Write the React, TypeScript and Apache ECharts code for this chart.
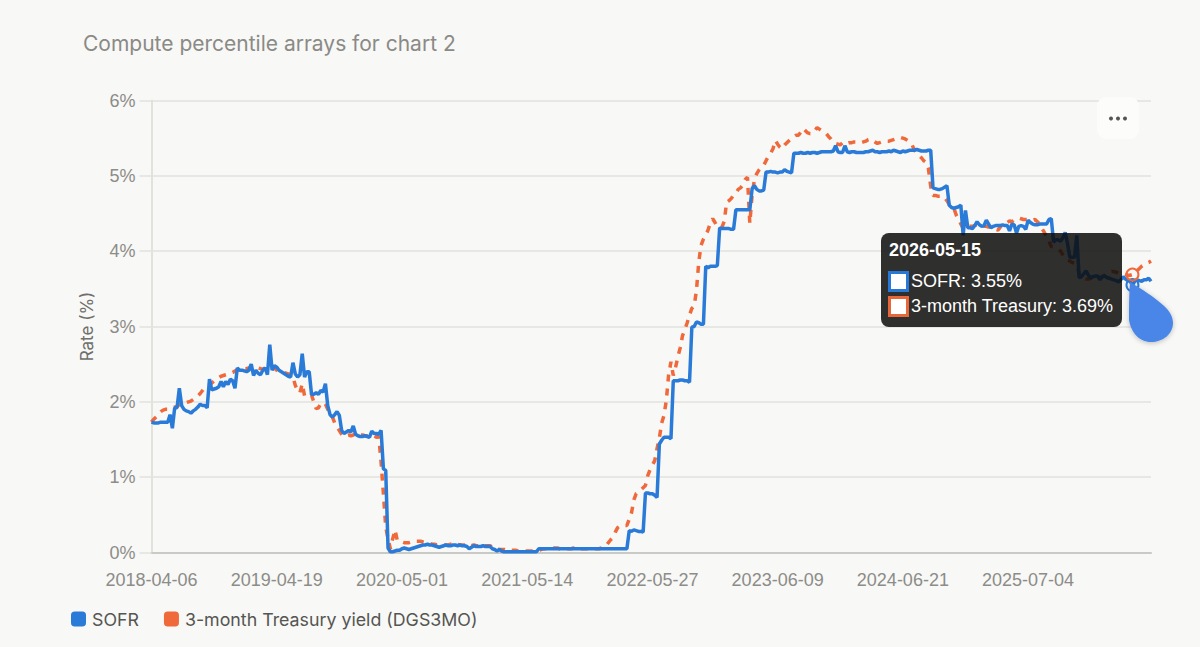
import React, { useEffect, useRef } from "react";
import * as echarts from "echarts";

const titleText = "Compute percentile arrays for chart 2";
const seriesNames = ["SOFR", "3-month Treasury yield (DGS3MO)"];
const tooltipNames = ["SOFR", "3-month Treasury"];
const yAxisName = "Rate (%)";
const firstDate = "2018-04-06";
const weekCount = 432;
const labelStep = 54;
const hoverIndex = 423;

const sofr = [
  1.73,1.72,1.72,1.72,1.73,1.73,1.73,1.73,1.83,1.65,
  1.92,1.92,2.18,1.95,1.90,1.88,1.87,1.85,1.88,1.90,
  1.93,1.97,1.95,1.95,1.92,2.30,2.16,2.17,2.18,2.20,
  2.27,2.20,2.27,2.23,2.30,2.28,2.18,2.45,2.42,2.42,
  2.41,2.40,2.42,2.50,2.35,2.42,2.38,2.36,2.42,2.45,
  2.36,2.76,2.42,2.48,2.46,2.42,2.40,2.38,2.36,2.34,
  2.33,2.52,2.37,2.33,2.36,2.64,2.33,2.40,2.40,2.10,
  2.10,2.12,2.10,2.15,2.13,2.24,1.95,1.83,1.80,1.83,
  1.87,1.82,1.62,1.58,1.60,1.62,1.60,1.68,1.57,1.55,
  1.54,1.54,1.55,1.54,1.53,1.61,1.58,1.58,1.57,1.62,
  1.11,1.09,0.06,0.01,0.01,0.02,0.03,0.03,0.05,0.06,
  0.05,0.04,0.05,0.06,0.07,0.08,0.09,0.10,0.10,0.11,
  0.10,0.10,0.09,0.08,0.07,0.08,0.09,0.10,0.09,0.09,
  0.10,0.10,0.09,0.10,0.09,0.09,0.08,0.05,0.07,0.09,
  0.08,0.08,0.08,0.09,0.08,0.08,0.08,0.05,0.04,0.02,
  0.04,0.02,0.01,0.01,0.01,0.01,0.01,0.01,0.01,0.01,
  0.01,0.01,0.01,0.01,0.01,0.01,0.01,0.05,0.05,0.05,
  0.05,0.05,0.05,0.05,0.05,0.05,0.05,0.05,0.05,0.05,
  0.05,0.05,0.05,0.05,0.05,0.05,0.05,0.05,0.05,0.05,
  0.05,0.05,0.05,0.05,0.05,0.05,0.05,0.05,0.05,0.05,
  0.05,0.05,0.05,0.05,0.05,0.05,0.29,0.28,0.30,0.29,
  0.28,0.28,0.27,0.79,0.79,0.78,0.78,0.76,0.73,1.44,
  1.49,1.53,1.53,1.53,1.51,2.28,2.28,2.28,2.29,2.29,
  2.28,2.28,2.26,2.99,3.00,3.06,3.05,3.03,3.03,3.80,
  3.78,3.80,3.80,3.80,3.81,4.31,4.30,4.30,4.30,4.30,
  4.29,4.29,4.55,4.55,4.55,4.55,4.55,4.55,4.55,4.83,
  4.87,4.82,4.80,4.80,4.81,5.05,5.05,5.06,5.05,5.05,
  5.04,5.05,5.05,5.08,5.06,5.05,5.04,5.30,5.30,5.30,
  5.31,5.30,5.30,5.31,5.30,5.31,5.31,5.30,5.31,5.32,
  5.32,5.32,5.32,5.32,5.33,5.40,5.32,5.31,5.31,5.40,
  5.32,5.31,5.32,5.32,5.31,5.31,5.31,5.31,5.32,5.32,
  5.33,5.34,5.32,5.32,5.31,5.32,5.32,5.32,5.33,5.32,
  5.34,5.33,5.32,5.31,5.33,5.32,5.33,5.34,5.34,5.34,
  5.35,5.34,5.33,5.33,5.33,5.34,5.34,4.84,4.83,4.82,
  4.82,4.83,4.85,4.87,4.61,4.58,4.57,4.58,4.59,4.61,
  4.21,4.54,4.31,4.31,4.30,4.34,4.39,4.35,4.33,4.34,
  4.41,4.36,4.31,4.33,4.34,4.34,4.34,4.35,4.34,4.34,
  4.27,4.36,4.35,4.24,4.33,4.34,4.33,4.29,4.41,4.38,
  4.36,4.35,4.35,4.36,4.36,4.36,4.36,4.42,4.43,4.12,
  4.15,4.15,4.13,4.18,4.25,4.10,3.92,3.92,3.92,4.21,
  3.65,3.66,3.70,3.74,3.68,3.65,3.66,3.67,3.67,3.62,
  3.66,3.67,3.65,3.64,3.63,3.62,3.61,3.59,3.62,3.66,
  3.63,3.61,3.60,3.55,3.60,3.62,3.61,3.60,3.62,3.62,3.64,3.60,
];

const treasury = [
  1.73,1.77,1.80,1.84,1.87,1.89,1.90,1.90,1.91,1.92,
  1.93,1.94,1.96,1.97,1.98,1.99,2.00,2.01,2.03,2.05,
  2.08,2.11,2.15,2.19,2.20,2.22,2.25,2.28,2.30,2.32,
  2.34,2.35,2.36,2.37,2.38,2.39,2.41,2.42,2.44,2.45,
  2.44,2.44,2.45,2.44,2.43,2.44,2.45,2.44,2.43,2.45,
  2.44,2.43,2.44,2.45,2.42,2.41,2.40,2.39,2.38,2.37,
  2.36,2.33,2.22,2.15,2.12,2.24,2.08,2.06,2.07,2.09,
  2.00,1.91,1.92,1.98,1.99,1.97,1.90,1.84,1.80,1.72,
  1.66,1.62,1.57,1.54,1.55,1.56,1.55,1.56,1.58,1.57,
  1.56,1.56,1.55,1.55,1.55,1.56,1.55,1.53,1.54,1.20,
  0.78,0.34,0.18,0.05,0.18,0.30,0.16,0.15,0.14,0.13,
  0.13,0.13,0.14,0.14,0.15,0.15,0.15,0.14,0.13,0.12,
  0.12,0.11,0.11,0.10,0.10,0.10,0.10,0.10,0.10,0.11,
  0.10,0.10,0.11,0.10,0.10,0.10,0.09,0.10,0.09,0.10,
  0.09,0.09,0.10,0.09,0.09,0.09,0.09,0.07,0.05,0.05,
  0.04,0.04,0.04,0.03,0.03,0.03,0.03,0.03,0.02,0.02,
  0.02,0.02,0.02,0.02,0.02,0.02,0.02,0.03,0.04,0.05,
  0.05,0.05,0.06,0.06,0.06,0.06,0.05,0.05,0.05,0.05,
  0.05,0.05,0.06,0.05,0.05,0.05,0.05,0.05,0.05,0.05,
  0.05,0.05,0.05,0.05,0.06,0.07,0.09,0.13,0.17,0.20,
  0.27,0.33,0.35,0.35,0.36,0.36,0.44,0.53,0.70,0.78,
  0.80,0.83,0.86,0.89,1.02,1.10,1.16,1.22,1.38,1.52,
  1.72,1.82,2.02,2.36,2.53,2.35,2.46,2.60,2.72,2.88,
  2.96,3.05,3.15,3.24,3.27,3.48,3.86,4.08,4.16,4.21,
  4.28,4.38,4.43,4.38,4.32,4.32,4.32,4.40,4.65,4.67,
  4.70,4.74,4.77,4.82,4.84,4.88,4.95,4.98,4.37,4.75,
  4.95,5.03,5.08,5.12,5.14,5.20,5.26,5.30,5.36,5.47,
  5.42,5.38,5.36,5.41,5.44,5.47,5.50,5.52,5.54,5.54,
  5.58,5.63,5.60,5.57,5.56,5.56,5.60,5.64,5.62,5.60,
  5.58,5.56,5.52,5.49,5.45,5.43,5.42,5.41,5.44,5.42,
  5.43,5.44,5.44,5.45,5.45,5.44,5.44,5.45,5.46,5.48,
  5.49,5.47,5.45,5.43,5.44,5.45,5.46,5.46,5.46,5.47,
  5.48,5.49,5.50,5.51,5.50,5.49,5.47,5.44,5.41,5.34,
  5.30,5.27,5.24,5.20,5.18,5.10,4.86,4.74,4.74,4.73,
  4.73,4.73,4.71,4.67,4.62,4.60,4.57,4.48,4.43,4.36,
  4.30,4.31,4.32,4.33,4.33,4.34,4.35,4.34,4.33,4.33,
  4.33,4.32,4.32,4.31,4.29,4.28,4.32,4.35,4.37,4.38,
  4.40,4.39,4.41,4.43,4.44,4.43,4.42,4.42,4.42,4.41,
  4.41,4.42,4.39,4.36,4.30,4.25,4.19,4.13,4.06,4.05,
  4.04,4.03,4.00,3.95,3.90,3.88,3.87,3.85,3.84,3.83,
  3.70,3.66,3.64,3.63,3.63,3.64,3.64,3.65,3.65,3.65,
  3.66,3.68,3.70,3.72,3.73,3.73,3.72,3.71,3.70,3.70,
  3.69,3.68,3.68,3.69,3.71,3.74,3.77,3.80,3.82,3.84,3.85,3.87,
];

const blue = "#2a7ad8";
const orange = "#f0693a";
const sansFont = "Inter, 'Noto Sans', sans-serif";
const tipFont = "'Liberation Sans', Arial, sans-serif";

function weeklyDates(start: string, count: number): string[] {
  const t0 = Date.parse(start + "T00:00:00Z");
  const out: string[] = [];
  for (let i = 0; i < count; i++) {
    out.push(new Date(t0 + i * 7 * 86400000).toISOString().slice(0, 10));
  }
  return out;
}

const categories = weeklyDates(firstDate, weekCount);
const DROP =
  "M0 0 C12 7 24 15 33 23 C40 29 43 35 43 41 C43 52 33 60 21 60 C9 60 1 50 -1 38 C-1 25 -1 12 0 0 Z";
echarts.graphic.registerShape("dropPin", echarts.graphic.extendPath(DROP, {}));

export default function App() {
  const ref = useRef<HTMLDivElement>(null);
  useEffect(() => {
    document.body.style.margin = "0";
    document.body.style.background = "#f8f8f6";
    const chart = echarts.init(ref.current!, undefined, { renderer: "svg" });
    const hoverMark = (value: number, color: string) => ({
      symbol: "circle",
      symbolSize: 12,
      silent: true,
      label: { show: false },
      itemStyle: { color: "rgba(0,0,0,0)", borderColor: color, borderWidth: 2 },
      data: [{ coord: [categories[hoverIndex], value] }],
    });
    chart.setOption({
      animation: false,
      backgroundColor: "#f8f8f6",
      title: {
        text: titleText,
        left: 78,
        top: 28,
        textStyle: { color: "#8a8a86", fontSize: 21, fontWeight: "normal", fontFamily: sansFont },
      },
      grid: { left: 151.5, right: 49, top: 100.5, bottom: 94.5 },
      legend: {
        left: 66,
        top: 605,
        itemWidth: 15,
        itemHeight: 15,
        itemGap: 25,
        icon: "roundRect",
        data: seriesNames,
        textStyle: { color: "#555552", fontSize: 17.8, fontFamily: sansFont, padding: [0, 0, 0, 1] },
      },
      xAxis: {
        type: "category",
        data: categories,
        boundaryGap: false,
        axisTick: { show: false },
        axisLine: { lineStyle: { color: "#c9c9c5", width: 2 } },
        axisLabel: {
          interval: (index: number) => index % labelStep === 0,
          hideOverlap: false,
          color: "#8c8c88",
          fontSize: 18,
          margin: 18,
          fontFamily: tipFont,
        },
      },
      yAxis: {
        type: "value",
        min: 0,
        max: 6,
        interval: 1,
        name: yAxisName,
        nameLocation: "middle",
        nameGap: 56,
        nameTextStyle: { color: "#6f6f6b", fontSize: 17, fontFamily: sansFont },
        axisLine: { show: true, lineStyle: { color: "#e2e2dc", width: 2 } },
        axisTick: { show: true, length: 12, lineStyle: { color: "#e2e2dc", width: 1.5 } },
        axisLabel: {
          formatter: "{value}%",
          color: "#8c8c88",
          fontSize: 18,
          margin: 16,
          fontFamily: tipFont,
        },
        splitLine: { lineStyle: { color: "#e2e2dc", width: 1.5 } },
      },
      series: [
        {
          name: seriesNames[0],
          type: "line",
          data: sofr,
          z: 4,
          symbol: "none",
          smooth: false,
          lineStyle: { color: blue, width: 3.5 },
          itemStyle: { color: blue },
          markPoint: hoverMark(sofr[hoverIndex], blue),
        },
        {
          name: seriesNames[1],
          type: "line",
          data: treasury,
          z: 3,
          symbol: "none",
          smooth: false,
          lineStyle: { color: orange, width: 3.5, type: [7, 7] },
          itemStyle: { color: orange },
          markPoint: hoverMark(treasury[hoverIndex], orange),
        },
      ],
      graphic: [
        {
          type: "rect",
          z: 100,
          shape: { x: 1097, y: 97, width: 42, height: 42, r: 9 },
          style: { fill: "#fcfcfb" },
        },
        ...[1111, 1118, 1125].map((cx) => ({
          type: "circle",
          z: 101,
          shape: { cx, cy: 118.5, r: 2 },
          style: { fill: "#555555" },
        })),
        {
          type: "rect",
          z: 110,
          shape: { x: 881, y: 233, width: 241, height: 94, r: 8 },
          style: { fill: "rgba(12,12,10,0.85)" },
        },
        {
          type: "text",
          z: 111,
          x: 889,
          y: 241,
          style: {
            text: categories[hoverIndex],
            fill: "#ffffff",
            font: `bold 18px ${tipFont}`,
          },
        },
        ...[
          { y: 272, color: "#2878d8", text: `${tooltipNames[0]}: ${sofr[hoverIndex]}%` },
          { y: 297, color: "#e8673a", text: `${tooltipNames[1]}: ${treasury[hoverIndex]}%` },
        ].flatMap((row) => [
          {
            type: "rect",
            z: 111,
            shape: { x: 889.5, y: row.y + 0.5, width: 18, height: 18 },
            style: { fill: "#ffffff", stroke: row.color, lineWidth: 3 },
          },
          {
            type: "text",
            z: 111,
            x: 911,
            y: row.y,
            style: { text: row.text, fill: "#ffffff", font: `18px ${tipFont}` },
          },
        ]),
        {
          type: "dropPin",
          z: 120,
          x: 1130,
          y: 282,
          style: {
            fill: "#4a86e8",
            shadowBlur: 5,
            shadowColor: "rgba(0,0,0,0.25)",
            shadowOffsetY: 1,
          },
        },
      ],
    });
    return () => chart.dispose();
  }, []);
  return <div ref={ref} style={{ width: 1200, height: 647, display: "block" }} />;
}
